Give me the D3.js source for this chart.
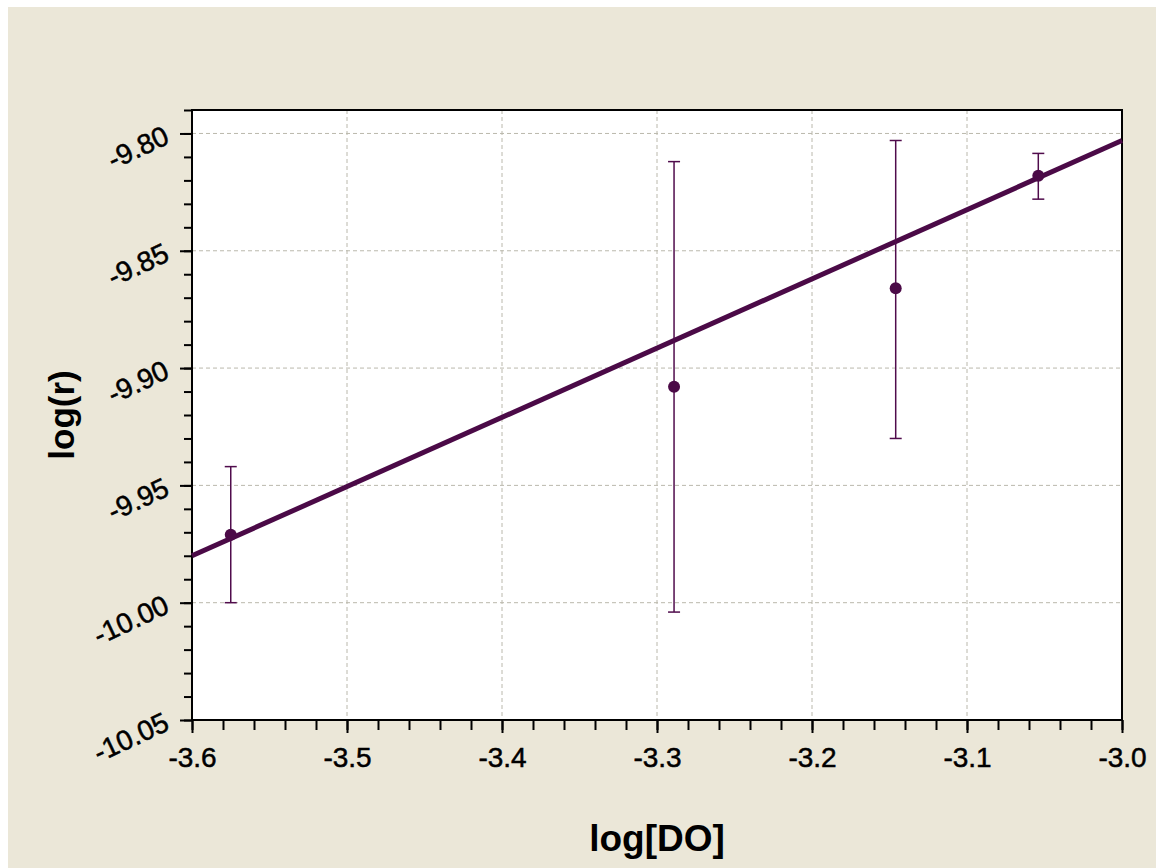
<!DOCTYPE html>
<html>
<head>
<meta charset="utf-8">
<script src="https://cdn.jsdelivr.net/npm/d3@7"></script>
<style>
  html, body { margin: 0; padding: 0; background: #fff; }
  svg { display: block; font-family: "Liberation Sans", Arial, sans-serif; }
</style>
</head>
<body>
<svg id="chart"></svg>
<script>
// measured points (log[DO], log(r)) with error bar ends
const logDO = [-3.575, -3.289, -3.146, -3.054];
const logR = [-9.971, -9.908, -9.866, -9.818];
const errLow = [-10.000, -10.004, -9.930, -9.828];
const errHigh = [-9.942, -9.812, -9.803, -9.8085];

// fitted line end points
const fitX = [-3.6, -3.0];
const fitY = [-9.980, -9.803];

const xTicks = [-3.6, -3.5, -3.4, -3.3, -3.2, -3.1, -3.0];
const yTicks = [-9.80, -9.85, -9.90, -9.95, -10.00, -10.05];

const W = 1156, H = 868;
const margin = { left: 192, right: W - 1122, top: 110, bottom: H - 720 };
const purple = '#4b0a47';
const font = '"Liberation Sans", Arial, sans-serif';
// plain hyphen instead of d3's unicode minus
const fmt1 = d => d.toFixed(1);
const fmt2 = d => d.toFixed(2);

const svg = d3.select('#chart').attr('width', W).attr('height', H);

// beige panel with a thin white edge top/left
svg.append('rect').attr('x', 8).attr('y', 7).attr('width', W - 8).attr('height', H - 7)
    .attr('fill', '#ebe7d8');

const x = d3.scaleLinear().domain([-3.6, -3.0]).range([margin.left, W - margin.right]);
const y = d3.scaleLinear().domain([-10.05, -9.79]).range([H - margin.bottom, margin.top]);

// plot area
svg.append('rect')
    .attr('x', x.range()[0]).attr('y', y.range()[1])
    .attr('width', x.range()[1] - x.range()[0])
    .attr('height', y.range()[0] - y.range()[1])
    .attr('fill', '#fff');

// grid
const grid = svg.append('g').attr('stroke', '#bab8ac').attr('stroke-width', 1)
    .attr('stroke-dasharray', '4,3');
grid.selectAll('.gx').data(xTicks.slice(1, -1)).join('line')
    .attr('x1', d => x(d)).attr('x2', d => x(d))
    .attr('y1', y.range()[1]).attr('y2', y.range()[0]);
grid.selectAll('.gy').data(yTicks.slice(0, -1)).join('line')
    .attr('y1', d => y(d)).attr('y2', d => y(d))
    .attr('x1', x.range()[0]).attr('x2', x.range()[1]);

// x axis
const xMinor = d3.range(0, 31).map(i => -3.6 + i * 0.02);
svg.append('g')
    .attr('transform', `translate(0,${y.range()[0]})`)
    .call(d3.axisBottom(x).tickValues(xMinor).tickSize(10).tickFormat(''))
    .call(g => g.select('.domain').remove())
    .call(g => g.selectAll('line').attr('stroke', '#000').attr('stroke-width', 2));
svg.append('g')
    .attr('transform', `translate(0,${y.range()[0]})`)
    .call(d3.axisBottom(x).tickValues(xTicks).tickSize(13).tickPadding(14).tickFormat(fmt1))
    .call(g => g.select('.domain').remove())
    .call(g => g.selectAll('line').attr('stroke', '#000').attr('stroke-width', 2))
    .call(g => g.selectAll('text').attr('font-size', 28).attr('fill', '#000')
        .attr('stroke', '#000').attr('stroke-width', 0.5)
        .attr('font-family', font));

// y axis
const yMinor = d3.range(0, 27).map(i => -10.05 + i * 0.01);
svg.append('g')
    .attr('transform', `translate(${x.range()[0]},0)`)
    .call(d3.axisLeft(y).tickValues(yMinor).tickSize(8).tickFormat(''))
    .call(g => g.select('.domain').remove())
    .call(g => g.selectAll('line').attr('stroke', '#000').attr('stroke-width', 2));
const yAx = svg.append('g')
    .attr('transform', `translate(${x.range()[0]},0)`)
    .call(d3.axisLeft(y).tickValues(yTicks).tickSize(12).tickFormat(fmt2))
    .call(g => g.select('.domain').remove())
    .call(g => g.selectAll('line').attr('stroke', '#000').attr('stroke-width', 2));
yAx.selectAll('text')
    .attr('font-size', 28).attr('fill', '#000')
    .attr('stroke', '#000').attr('stroke-width', 0.5)
    .attr('font-family', font)
    .attr('text-anchor', 'end')
    .attr('x', -26).attr('dy', '0.35em')
    .attr('transform', 'rotate(-25,-26,-2)');

// frame
svg.append('rect')
    .attr('x', x.range()[0]).attr('y', y.range()[1])
    .attr('width', x.range()[1] - x.range()[0])
    .attr('height', y.range()[0] - y.range()[1])
    .attr('fill', 'none').attr('stroke', '#000').attr('stroke-width', 2);

// fitted line
svg.append('path')
    .datum(fitX.map((d, i) => [d, fitY[i]]))
    .attr('d', d3.line().x(d => x(d[0])).y(d => y(d[1])))
    .attr('fill', 'none').attr('stroke', purple).attr('stroke-width', 5);

// error bars
const pts = logDO.map((d, i) => ({ x: d, y: logR[i], lo: errLow[i], hi: errHigh[i] }));
const eb = svg.append('g').attr('stroke', '#500c4c').attr('stroke-width', 1.5);
eb.selectAll('.v').data(pts).join('line')
    .attr('x1', d => x(d.x)).attr('x2', d => x(d.x))
    .attr('y1', d => y(d.lo)).attr('y2', d => y(d.hi));
eb.selectAll('.capHi').data(pts).join('line')
    .attr('x1', d => x(d.x) - 6).attr('x2', d => x(d.x) + 6)
    .attr('y1', d => y(d.hi)).attr('y2', d => y(d.hi));
eb.selectAll('.capLo').data(pts).join('line')
    .attr('x1', d => x(d.x) - 6).attr('x2', d => x(d.x) + 6)
    .attr('y1', d => y(d.lo)).attr('y2', d => y(d.lo));

// points
svg.append('g').selectAll('circle').data(pts).join('circle')
    .attr('cx', d => x(d.x)).attr('cy', d => y(d.y)).attr('r', 6)
    .attr('fill', purple);

// axis titles
svg.append('text')
    .attr('x', (x.range()[0] + x.range()[1]) / 2).attr('y', 851)
    .attr('text-anchor', 'middle')
    .attr('font-size', 37).attr('font-weight', 'bold')
    .text('log[DO]');
svg.append('text')
    .attr('transform', `translate(74,${(y.range()[0] + y.range()[1]) / 2}) rotate(-90)`)
    .attr('text-anchor', 'middle')
    .attr('font-size', 35).attr('font-weight', 'bold')
    .text('log(r)');
</script>
</body>
</html>
